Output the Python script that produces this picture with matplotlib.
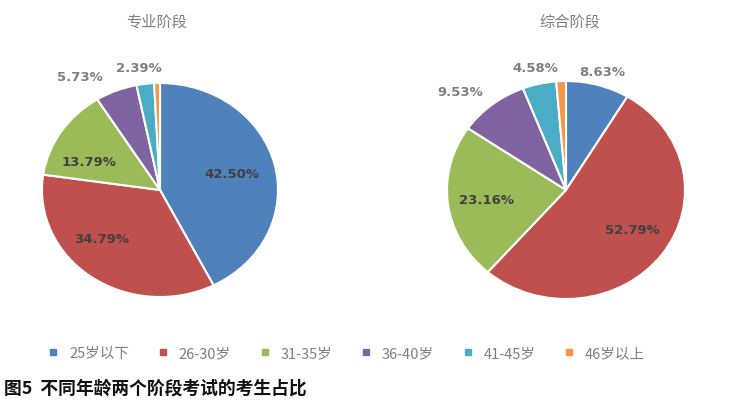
import matplotlib
matplotlib.use('Agg')
import matplotlib.pyplot as plt
import numpy as np

plt.rcParams['font.family'] = ['Noto Sans CJK SC', 'DejaVu Sans']

categories = ['25岁以下', '26-30岁', '31-35岁', '36-40岁', '41-45岁', '46岁以上']
zhuanye = [42.50, 34.79, 13.79, 5.73, 2.39, 0.80]
zonghe = [8.63, 52.79, 23.16, 9.53, 4.58, 1.31]
titles = ['专业阶段', '综合阶段']
colors = ['#4F81BD', '#C0504D', '#9BBB59', '#8064A2', '#4BACC6', '#F79646']

W, H = 739, 406
fig = plt.figure(figsize=(W / 100, H / 100), dpi=100)

def px_axes(cx, cy, rx, ry, xl=1.3, yb=1.2, yt=1.4):
    left = cx - xl * rx
    width = 2 * xl * rx
    top = cy - yt * ry
    bottom = cy + yb * ry
    ax = fig.add_axes([left / W, (H - bottom) / H, width / W, (bottom - top) / H])
    return ax

# (radius, angle shift in degrees) of each data label, None = no label
label_pos = [
    [(0.63, 1), (0.67, -12), (0.66, 9), (1.26, 11), (1.16, 1.5), None],
    [(1.13, 0), (0.67, 3), (0.67, 0), (1.27, 6), (1.15, 0), None],
]

def draw(ax, vals, lp):
    wedges, _ = ax.pie(vals, colors=colors, startangle=90, counterclock=False,
                       wedgeprops=dict(edgecolor='white', linewidth=1.5))
    ax.set_aspect('auto')
    ax.set_xlim(-1.3, 1.3)
    ax.set_ylim(-1.2, 1.4)
    ax.axis('off')
    for w, v, p in zip(wedges, vals, lp):
        if p is None:
            continue
        r, shift = p
        ang = np.deg2rad((w.theta1 + w.theta2) / 2 + shift)
        col = '#404040' if r < 1 else '#7F7F7F'
        ax.text(r * np.cos(ang), r * np.sin(ang), f'{v:.2f}%', ha='center', va='center',
                fontsize=9.5, fontweight='bold', color=col, family=['DejaVu Sans'])

ax1 = px_axes(160, 191, 118, 107)
draw(ax1, zhuanye, label_pos[0])
ax2 = px_axes(566, 191, 119, 109)
draw(ax2, zonghe, label_pos[1])

fig.text(157 / W, 1 - 22 / H, titles[0], ha='center', va='center', fontsize=11, color='#7F7F7F')
fig.text(570 / W, 1 - 22 / H, titles[1], ha='center', va='center', fontsize=11, color='#7F7F7F')

handles = [plt.Line2D([], [], marker='s', linestyle='', color=c, markersize=4) for c in colors]
fig.legend(handles, categories, loc='center', bbox_to_anchor=(342 / W, 1 - 354 / H), ncol=6,
           frameon=False, fontsize=10.5, handletextpad=0.1, columnspacing=1.3,
           labelcolor='#7F7F7F')

fig.text(4 / W, 1 - 389 / H, '图5  不同年龄两个阶段考试的考生占比', ha='left', va='center',
         fontsize=12.8, fontweight='bold', color='#111111')

fig.savefig('out.png', dpi=100)
